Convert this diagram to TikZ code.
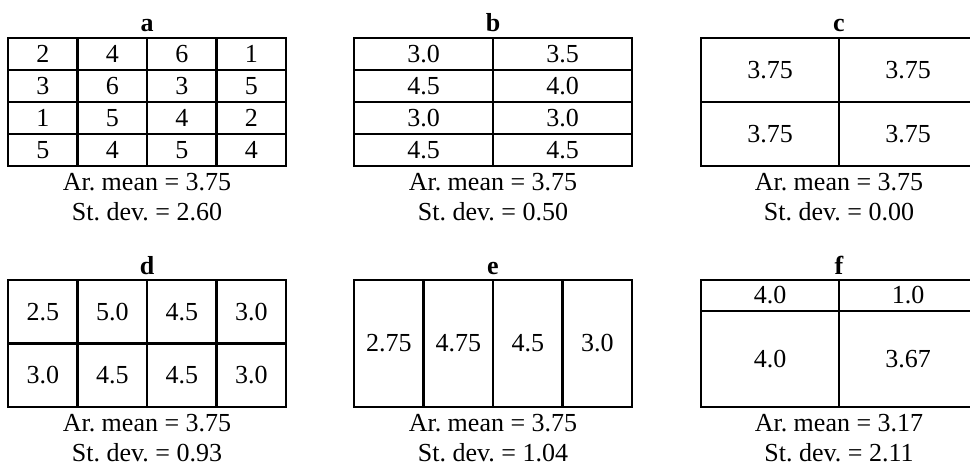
\documentclass[tikz,border=0pt]{standalone}
\usepackage{fontspec}
\setmainfont{Liberation Serif}
\usetikzlibrary{positioning}
\frenchspacing
\tikzstyle{grid}=[line width=1.3pt]
\tikzstyle{every node}=[font=\fontsize{13}{15}\selectfont, inner sep=0pt]
\tikzstyle{title}=[anchor=base, font=\fontsize{13}{15}\selectfont\bfseries]
\tikzstyle{stat}=[anchor=base]

\begin{document}
\begin{tikzpicture}[x=0.5pt, y=-0.5pt]
  \useasboundingbox (0,0) rectangle (970,466);
  \clip (0,0) rectangle (970,466);

  % a
  \node[title] (ta) at (147,31.7) {a};
  \draw[grid] (8,38) rectangle (286,166);
  \foreach \y in {70,102,134} \draw[grid] (8,\y) -- (286,\y);
  \foreach \x in {77.5,147,216.5} \draw[grid] (\x,38) -- (\x,166);
  \foreach \row [count=\r] in {{2,4,6,1},{3,6,3,5},{1,5,4,2},{5,4,5,4}}
    \foreach \v [count=\c] in \row
      \node (a\r\c) at ({8+69.5*(\c-0.5)},{38+32*(\r-0.5)}) {\v};
  \node[stat] (ma) at (147,190.7) {Ar. mean = 3.75};
  \node[stat] (sa) at (147,220.7) {St. dev. = 2.60};

  % b
  \node[title] (tb) at (493,31.7) {b};
  \draw[grid] (354,38) rectangle (632,166);
  \foreach \y in {70,102,134} \draw[grid] (354,\y) -- (632,\y);
  \draw[grid] (493,38) -- (493,166);
  \foreach \row [count=\r] in {{3.0,3.5},{4.5,4.0},{3.0,3.0},{4.5,4.5}}
    \foreach \v [count=\c] in \row
      \node (b\r\c) at ({354+139*(\c-0.5)},{38+32*(\r-0.5)}) {\v};
  \node[stat] (mb) at (493,190.7) {Ar. mean = 3.75};
  \node[stat] (sb) at (493,220.7) {St. dev. = 0.50};

  % c
  \node[title] (tc) at (839,31.7) {c};
  \draw[grid] (701,38) rectangle (977,166);
  \draw[grid] (701,102) -- (977,102);
  \draw[grid] (839,38) -- (839,166);
  \foreach \row [count=\r] in {{3.75,3.75},{3.75,3.75}}
    \foreach \v [count=\c] in \row
      \node (c\r\c) at ({701+138*(\c-0.5)},{38+64*(\r-0.5)}) {\v};
  \node[stat] (mc) at (839,190.7) {Ar. mean = 3.75};
  \node[stat] (sc) at (839,220.7) {St. dev. = 0.00};

  % d
  \node[title] (td) at (147,274) {d};
  \draw[grid] (8,280) rectangle (286,407);
  \draw[grid] (8,343.5) -- (286,343.5);
  \foreach \x in {77.5,147,216.5} \draw[grid] (\x,280) -- (\x,407);
  \foreach \row [count=\r] in {{2.5,5.0,4.5,3.0},{3.0,4.5,4.5,3.0}}
    \foreach \v [count=\c] in \row
      \node (d\r\c) at ({8+69.5*(\c-0.5)},{280+63.5*(\r-0.5)}) {\v};
  \node[stat] (md) at (147,431.7) {Ar. mean = 3.75};
  \node[stat] (sd) at (147,461.7) {St. dev. = 0.93};

  % e
  \node[title] (te) at (493,274) {e};
  \draw[grid] (354,280) rectangle (632,407);
  \foreach \x in {423.5,493,562.5} \draw[grid] (\x,280) -- (\x,407);
  \foreach \v [count=\c] in {2.75,4.75,4.5,3.0}
    \node (e1\c) at ({354+69.5*(\c-0.5)},343.5) {\v};
  \node[stat] (me) at (493,431.7) {Ar. mean = 3.75};
  \node[stat] (se) at (493,461.7) {St. dev. = 1.04};

  % f
  \node[title] (tf) at (839,274) {f};
  \draw[grid] (701,280) rectangle (977,407);
  \draw[grid] (701,311) -- (977,311);
  \draw[grid] (839,280) -- (839,407);
  \node (f11) at (770,295.5) {4.0};
  \node (f12) at (908,295.5) {1.0};
  \node (f21) at (770,359) {4.0};
  \node (f22) at (908,359) {3.67};
  \node[stat] (mf) at (839,431.7) {Ar. mean = 3.17};
  \node[stat] (sf) at (839,461.7) {St. dev. = 2.11};
\end{tikzpicture}
\end{document}
